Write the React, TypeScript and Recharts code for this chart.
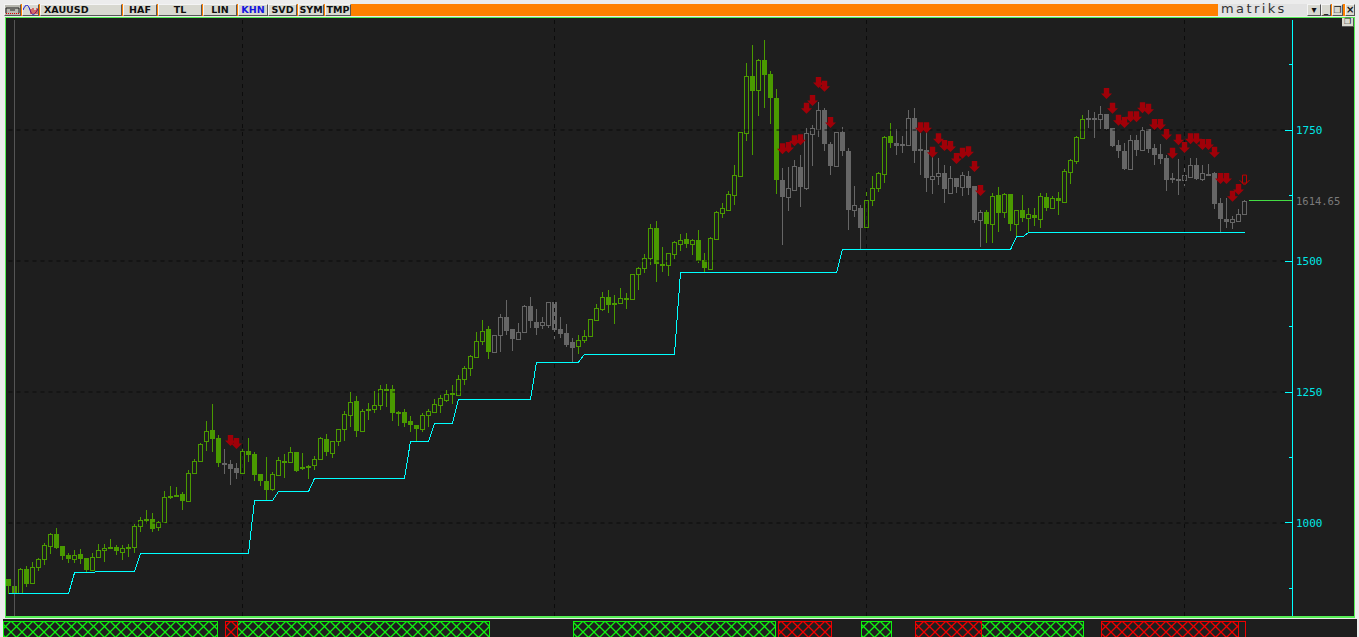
import { Bar, ComposedChart, Line, ReferenceArea, ReferenceLine, XAxis, YAxis } from "recharts";

const opens = [893,880,866,912,885,916,931,956,979,956,939,931,941,933,910,935,948,954,954,945,952,954,994,1008,1008,992,1002,1052,1052,1055,1042,1095,1118,1156,1177,1162,1115,1113,1105,1095,1137,1132,1094,1080,1065,1092,1118,1116,1135,1107,1109,1111,1122,1160,1134,1156,1179,1206,1233,1176,1216,1218,1225,1256,1256,1212,1212,1195,1187,1179,1206,1212,1225,1235,1246,1244,1275,1296,1317,1347,1370,1326,1359,1393,1370,1351,1364,1414,1384,1378,1378,1422,1370,1363,1345,1338,1349,1357,1387,1408,1431,1420,1420,1429,1427,1475,1487,1506,1563,1494,1492,1513,1532,1542,1532,1540,1502,1485,1542,1592,1597,1626,1662,1744,1853,1826,1884,1857,1811,1655,1622,1635,1679,1639,1742,1752,1788,1723,1681,1746,1710,1597,1601,1565,1616,1639,1666,1739,1725,1723,1721,1773,1714,1712,1656,1662,1668,1630,1658,1641,1662,1643,1578,1594,1571,1626,1594,1628,1571,1597,1582,1588,1580,1622,1601,1620,1613,1670,1691,1735,1773,1771,1771,1781,1754,1721,1710,1676,1731,1712,1752,1716,1704,1697,1658,1656,1655,1660,1683,1656,1666,1668,1611,1580,1574,1576,1590];
const highs = [893,899,914,918,926,933,962,981,990,956,943,948,950,933,943,960,960,969,958,958,960,998,1011,1025,1019,1004,1061,1071,1069,1059,1101,1122,1153,1195,1227,1168,1141,1120,1115,1141,1162,1135,1094,1126,1097,1126,1132,1145,1135,1134,1111,1128,1164,1170,1156,1179,1214,1250,1242,1218,1229,1252,1263,1265,1263,1214,1218,1204,1187,1210,1218,1237,1244,1254,1263,1282,1300,1321,1364,1387,1376,1359,1399,1426,1370,1382,1416,1431,1408,1393,1422,1424,1393,1380,1353,1359,1368,1389,1418,1441,1445,1435,1448,1439,1475,1489,1513,1571,1576,1527,1515,1538,1552,1553,1542,1559,1515,1546,1595,1611,1634,1683,1746,1878,1912,1885,1922,1863,1828,1677,1679,1693,1702,1754,1760,1803,1792,1727,1746,1756,1716,1643,1607,1632,1662,1670,1739,1763,1752,1739,1788,1792,1744,1750,1718,1697,1683,1681,1658,1670,1672,1643,1597,1597,1630,1641,1630,1628,1597,1626,1601,1601,1630,1630,1624,1632,1676,1695,1739,1779,1788,1784,1796,1781,1754,1731,1725,1740,1740,1756,1752,1723,1723,1702,1668,1695,1677,1697,1697,1683,1685,1670,1620,1620,1586,1599,1616];
const lows = [865,866,866,878,885,908,920,941,950,929,924,924,922,905,910,935,926,950,939,929,935,943,983,998,983,985,1000,1046,1050,1025,1042,1095,1118,1137,1135,1107,1094,1073,1084,1095,1116,1080,1071,1044,1061,1092,1086,1116,1097,1101,1084,1101,1122,1128,1124,1147,1156,1183,1164,1176,1197,1210,1216,1221,1195,1185,1183,1174,1156,1174,1183,1212,1210,1231,1227,1244,1263,1281,1317,1340,1313,1326,1326,1359,1328,1349,1363,1372,1359,1370,1372,1351,1353,1336,1307,1323,1344,1355,1385,1405,1401,1380,1418,1408,1427,1445,1477,1492,1460,1479,1471,1504,1519,1525,1511,1496,1479,1485,1540,1582,1597,1607,1662,1729,1702,1777,1792,1761,1628,1531,1595,1635,1603,1635,1681,1737,1710,1664,1679,1700,1559,1584,1521,1565,1605,1632,1649,1716,1702,1706,1721,1687,1664,1632,1628,1645,1611,1630,1630,1624,1626,1573,1527,1534,1534,1555,1582,1557,1546,1574,1553,1567,1563,1595,1601,1588,1613,1647,1685,1735,1754,1735,1752,1750,1717,1697,1674,1676,1700,1712,1706,1683,1685,1634,1649,1626,1643,1658,1655,1653,1662,1599,1555,1563,1561,1576,1590];
const closes = [880,866,912,884,916,931,958,979,952,937,931,939,931,910,935,948,952,952,947,952,954,994,1006,1004,989,1002,1050,1048,1053,1042,1095,1118,1151,1176,1160,1115,1113,1103,1095,1137,1130,1092,1080,1063,1094,1120,1116,1135,1099,1103,1105,1122,1162,1135,1156,1179,1208,1231,1176,1214,1218,1225,1256,1254,1210,1210,1191,1187,1179,1206,1214,1227,1239,1246,1248,1275,1296,1319,1347,1366,1326,1359,1393,1366,1351,1364,1414,1385,1372,1384,1422,1368,1361,1340,1334,1349,1357,1389,1410,1431,1416,1416,1429,1427,1475,1487,1506,1563,1494,1492,1515,1536,1540,1532,1540,1500,1487,1544,1594,1601,1628,1664,1746,1853,1824,1884,1855,1811,1655,1622,1639,1681,1641,1744,1754,1788,1723,1681,1746,1710,1597,1607,1563,1616,1639,1668,1737,1725,1719,1719,1773,1710,1710,1658,1662,1668,1637,1658,1641,1664,1639,1578,1594,1571,1624,1592,1628,1571,1597,1582,1590,1582,1624,1601,1620,1614,1672,1693,1737,1771,1769,1773,1781,1752,1719,1710,1676,1731,1712,1750,1714,1702,1695,1655,1655,1655,1664,1683,1656,1668,1664,1609,1580,1574,1580,1590,1614.65];

// index ranges drawn in grey instead of green
const greyRanges = [[36, 38], [81, 94], [129, 142], [148, 162], [180, 206]];

// stepped support line: bar where each level starts, and the level
const stopFrom = [0, 11, 15, 22, 41, 45, 51, 67, 71, 75, 88, 96, 112, 139, 168, 170];
const stopLevel = [865, 905, 908, 942, 1043, 1060, 1085, 1156, 1190, 1236, 1307, 1322, 1478, 1522, 1546, 1554];

const arrowBars = [37,38,129,130,131,132,133,134,135,136,137,152,153,154,155,156,157,158,159,160,161,162,183,184,185,186,187,188,189,190,191,192,193,194,195,196,197,198,199,200,201,202,203,204,205,206];
const arrowPrices = [1168,1162,1725,1727,1740,1742,1802,1817,1851,1844,1775,1765,1765,1718,1744,1731,1729,1706,1716,1719,1691,1645,1830,1802,1779,1775,1786,1786,1803,1800,1771,1771,1752,1716,1742,1727,1744,1744,1733,1733,1718,1668,1668,1634,1647,1664];

const lastPrice = 1614.65;
const slotCount = 214;
const gridPrices = [1000, 1250, 1500, 1750];
const yTicks = [875, 1000, 1125, 1250, 1375, 1500, 1625, 1750, 1875, lastPrice];
const yearBars = [39, 91, 143, 196];

const greenBands = [[-0.9, 34.9], [38.1, 80.1], [94.1, 127.9], [142.1, 147.1], [162.1, 179.1]];
const redBands = [[36.1, 38.1], [128.4, 137.1], [151.1, 162.1], [182.1, 205]];
const openBand = [205, 206.1];

const tabs = [
  { label: "XAUUSD", l: 36, w: 82, left: true },
  { label: "HAF", l: 119, w: 34 },
  { label: "TL", l: 154, w: 44 },
  { label: "LIN", l: 199, w: 34 },
  { label: "KHN", l: 234, w: 30, color: "#1515e0" },
  { label: "SVD", l: 264, w: 29 },
  { label: "SYM", l: 294, w: 26 },
  { label: "TMP", l: 321, w: 26 },
];

const winButtons = [
  { l: 1303, w: 14, s: "▾", size: 10 },
  { l: 1317, w: 10, s: "_", size: 9 },
  { l: 1328, w: 11, s: "❐", size: 9 },
  { l: 1341, w: 10, s: "×", size: 10 },
];

const GREEN = "#4a9a00";
const GREY = "#666666";
const RED = "#a00008";
const CYAN = "#00ffff";
const BG = "#1e1e1e";
const HATCH_GREEN = "#10f010";
const HATCH_RED = "#f00000";

const isGrey = (i: number) => greyRanges.some(([a, b]) => i >= a && i <= b);
const stopAt = (i: number) => {
  let level = stopLevel[0];
  stopFrom.forEach((from, k) => {
    if (i >= from) level = stopLevel[k];
  });
  return level;
};

const rows = Array.from({ length: slotCount }, (_, i) => {
  const a = arrowBars.indexOf(i);
  return {
    idx: i,
    open: opens[i] ?? null,
    high: highs[i] ?? null,
    low: lows[i] ?? null,
    close: closes[i] ?? null,
    stop: i < opens.length ? stopAt(i) : null,
    arrow: a >= 0 ? arrowPrices[a] : null,
  };
});

function Candle(props: any) {
  const { x, y, width, height, payload, index } = props;
  if (payload == null || payload.high == null) return <g key={index} />;
  const { open, high, low, close, idx } = payload;
  const color = isGrey(idx) ? GREY : GREEN;
  const cx = x + width / 2;
  const span = high - low || 1;
  const py = (v: number) => y + ((high - v) / span) * height;
  const top = Math.round(py(Math.max(open, close)));
  const bottom = Math.round(py(Math.min(open, close)));
  const up = close >= open;
  return (
    <g shapeRendering="crispEdges">
      <line x1={cx} x2={cx} y1={y} y2={y + height} stroke={color} strokeWidth={1} />
      {up ? (
        <rect x={cx - 2} y={top + 0.5} width={4} height={Math.max(bottom - top, 1)} fill={BG} stroke={color} strokeWidth={1} />
      ) : (
        <rect x={cx - 2.5} y={top} width={5} height={Math.max(bottom - top, 2)} fill={color} />
      )}
    </g>
  );
}

function Arrow(props: any) {
  const { cx, cy, payload, index } = props;
  if (payload == null || payload.arrow == null || cy == null) return <g key={index} />;
  if (payload.idx === opens.length - 1) {
    const open = `M${cx - 2} ${cy}H${cx + 2}V${cy + 8}H${cx - 2}ZM${cx - 5} ${cy + 5}L${cx} ${cy + 10}L${cx + 5} ${cy + 5}`;
    return <path key={index} d={open} fill="none" stroke="#c00000" strokeWidth={1} />;
  }
  const d = `M${cx - 2.7} ${cy}H${cx + 2.7}V${cy + 5.5}H${cx + 5.5}L${cx} ${cy + 11}L${cx - 5.5} ${cy + 5.5}H${cx - 2.7}Z`;
  return <path key={index} d={d} fill={RED} />;
}

function AxisTick(props: any) {
  const { x, y, payload } = props;
  const v = payload.value;
  const isLast = v === lastPrice;
  const major = v % 250 === 0;
  return (
    <g>
      {!isLast && (
        <line x1={x - (major ? 8 : 4)} x2={x} y1={y} y2={y} stroke={CYAN} strokeWidth={1} shapeRendering="crispEdges" />
      )}
      {(major || isLast) && (
        <text
          x={x + 3.5}
          y={y + 4}
          fontFamily="'DejaVu Sans Mono'"
          fontSize={isLast ? 10.5 : 11}
          fill={isLast ? "#7a7a7a" : "#00e6e6"}
          textAnchor="start"
        >
          {isLast ? v.toFixed(2) : v}
        </text>
      )}
    </g>
  );
}

function LastPriceLine(props: any) {
  const { x1, x2, y1 } = props;
  return <line x1={x1 - 2} x2={x2 + 6} y1={y1} y2={y1} stroke="#44dd44" strokeWidth={1} shapeRendering="crispEdges" />;
}

function BandStrip() {
  return (
    <div style={{ position: "absolute", left: 0, top: 621, width: 1359, height: 24 }}>
      <ComposedChart
        width={1359}
        height={24}
        data={[
          { x: -1, y: 0 },
          { x: 225, y: 1 },
        ]}
        margin={{ top: 0, right: 0, bottom: 0, left: 0 }}
      >
        <defs>
          <pattern id="hatchGreen" width="11" height="11" patternUnits="userSpaceOnUse">
            <path d="M0 0L11 11M11 0L0 11" stroke={HATCH_GREEN} strokeWidth="1.3" />
          </pattern>
          <pattern id="hatchRed" width="11" height="11" patternUnits="userSpaceOnUse">
            <path d="M0 0L11 11M11 0L0 11" stroke={HATCH_RED} strokeWidth="1.3" />
          </pattern>
        </defs>
        <XAxis dataKey="x" type="number" domain={[-1.4167, 225.08]} hide allowDataOverflow />
        <YAxis type="number" domain={[0, 1]} hide width={0} />
        <Line dataKey="y" stroke="none" dot={false} isAnimationActive={false} />
        {greenBands.map(([a, b]) => (
          <ReferenceArea key={a} x1={a} x2={b} y1={0} y2={1} ifOverflow="visible" fill="url(#hatchGreen)" fillOpacity={1} stroke={HATCH_GREEN} strokeWidth={1} shapeRendering="crispEdges" />
        ))}
        {redBands.map(([a, b]) => (
          <ReferenceArea key={a} x1={a} x2={b} y1={0} y2={1} ifOverflow="visible" fill="url(#hatchRed)" fillOpacity={1} stroke={HATCH_RED} strokeWidth={1} shapeRendering="crispEdges" />
        ))}
        <ReferenceArea x1={openBand[0]} x2={openBand[1]} y1={0} y2={1} ifOverflow="visible" fill="none" stroke={HATCH_RED} strokeWidth={1} shapeRendering="crispEdges" />
      </ComposedChart>
    </div>
  );
}

function TitleBar() {
  const tabBase: any = {
    position: "absolute",
    top: 0,
    boxSizing: "border-box",
    height: 12,
    background: "#d8d8d0",
    borderLeft: "1px solid #f4f4f4",
    borderTop: "1px solid #f4f4f4",
    borderRight: "1px solid #555",
    borderBottom: "1px solid #555",
    fontFamily: "'DejaVu Sans'",
    fontWeight: 700,
    fontSize: 9.5,
    lineHeight: "10px",
    color: "#101010",
    textAlign: "center",
  };
  return (
    <div style={{ position: "absolute", left: 4, top: 4, width: 1351, height: 12, background: "#ff8000" }}>
      <div style={{ ...tabBase, left: 0, width: 17, background: "#b8b8b0" }}>
        <svg width="15" height="10" style={{ display: "block" }}>
          <path d="M1 3H14V8M1 3V8M5 5H10" stroke="#222" fill="none" />
          <path d="M1 8.5H14" stroke="#e00000" strokeDasharray="1 1" />
        </svg>
      </div>
      <div style={{ ...tabBase, left: 18, width: 17 }}>
        <svg width="15" height="10" style={{ display: "block" }}>
          <path d="M0 5C3 -2 5 -1 7 5S11 11 15 4" stroke="#1010d0" fill="none" />
          <path d="M8 9V4M10 9V3M12 9V5M14 9V3" stroke="#d00000" />
        </svg>
      </div>
      {tabs.map((t) => (
        <div
          key={t.label}
          style={{
            ...tabBase,
            left: t.l,
            width: t.w,
            color: t.color ?? "#101010",
            textAlign: t.left ? "left" : "center",
            paddingLeft: t.left ? 3 : 0,
          }}
        >
          {t.label}
        </div>
      ))}
      <div
        style={{
          position: "absolute",
          left: 1214,
          top: 0,
          width: 89,
          height: 12,
          background: "#e2e2e2",
          fontFamily: "'DejaVu Sans'",
          fontSize: 13,
          lineHeight: "10px",
          letterSpacing: 2.4,
          color: "#333",
          paddingLeft: 3,
          boxSizing: "border-box",
          whiteSpace: "nowrap",
        }}
      >
        matriks
      </div>
      {winButtons.map((b) => (
        <div key={b.l} style={{ ...tabBase, left: b.l, width: b.w, fontSize: b.size }}>
          {b.s}
        </div>
      ))}
    </div>
  );
}

export default function App() {
  return (
    <div style={{ position: "fixed", left: 0, top: 0, width: 1359, height: 637, overflow: "hidden", background: "#ececec" }}>
      <TitleBar />
      <div style={{ position: "absolute", left: 3, top: 619, width: 1354, height: 18, background: BG }} />
      <div
        style={{
          position: "absolute",
          left: 5,
          top: 17,
          width: 1350,
          height: 601,
          boxSizing: "border-box",
          border: "1px solid #55ee55",
          borderBottomWidth: 2,
          background: BG,
        }}
      />
      <div style={{ position: "absolute", left: 0, top: 0, width: 1359, height: 637 }}>
        <ComposedChart
          width={1359}
          height={637}
          data={rows}
          barCategoryGap={0}
          margin={{ top: 20, right: 0, bottom: 21, left: 5.5 }}
        >
          <XAxis dataKey="idx" type="category" hide padding={{ left: 0, right: 3 }} interval={0} />
          <YAxis
            orientation="right"
            width={66.5}
            type="number"
            domain={[822.5, 1960]}
            allowDataOverflow
            ticks={yTicks}
            interval={0}
            tickLine={false}
            tickSize={0}
            tickMargin={0}
            axisLine={{ stroke: CYAN, strokeWidth: 1 }}
            tick={AxisTick}
          />
          <ReferenceLine x={1} stroke="#555555" strokeWidth={1} />
          {gridPrices.map((p) => (
            <ReferenceLine key={p} y={p} stroke="#0c0c0c" strokeDasharray="4 4" />
          ))}
          {yearBars.map((b) => (
            <ReferenceLine key={b} x={b} stroke="#0c0c0c" strokeDasharray="4 4" />
          ))}
          <Bar dataKey={(d: any) => (d.high == null ? null : [d.low, d.high])} shape={Candle} isAnimationActive={false} />
          <Line dataKey="stop" type="linear" stroke={CYAN} strokeWidth={1} shapeRendering="crispEdges" dot={false} connectNulls={false} isAnimationActive={false} />
          <Line dataKey="arrow" stroke="none" dot={Arrow} activeDot={false} connectNulls={false} isAnimationActive={false} />
          <ReferenceLine
            segment={[
              { x: 207, y: lastPrice },
              { x: 213, y: lastPrice },
            ]}
            shape={LastPriceLine}
          />
        </ComposedChart>
      </div>
      <BandStrip />
      <div
        style={{
          position: "absolute",
          left: 1342,
          top: 18,
          width: 12,
          height: 9,
          boxSizing: "border-box",
          background: "#d8d8d0",
          borderRight: "1px solid #555",
          borderBottom: "1px solid #555",
          fontFamily: "'DejaVu Sans'",
          fontWeight: 700,
          fontSize: 8,
          lineHeight: "8px",
          textAlign: "center",
          color: "#111",
        }}
      >
        ❐
      </div>
    </div>
  );
}
